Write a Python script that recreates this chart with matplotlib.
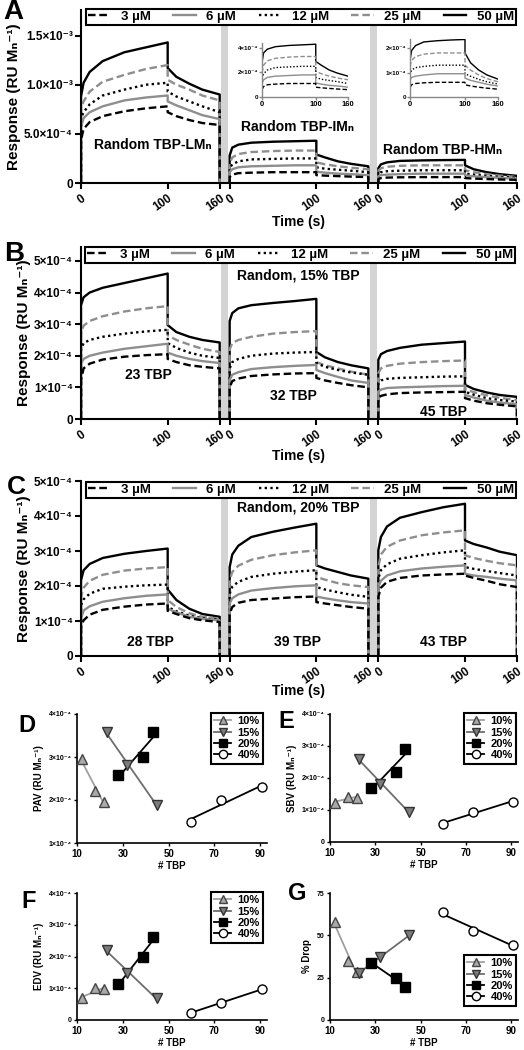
import numpy as np
import matplotlib
matplotlib.use('Agg')
import matplotlib.pyplot as plt
from matplotlib.lines import Line2D

plt.rcParams['font.family'] = ['Liberation Sans', 'DejaVu Sans']
plt.rcParams['font.weight'] = 'bold'
plt.rcParams['axes.labelweight'] = 'bold'

W, H = 524, 1050

# sensorgram sampling times (s)
T_ON = [0, 3, 10, 25, 50, 75, 100]
T_OFF = [100, 110, 125, 140, 160]
CONC = ['3 µM', '6 µM', '12 µM', '25 µM', '50 µM']

# responses in 1e-4 RU/Mn, rows: 3, 6, 12, 25, 50 uM
A_LM_ON = [[4.4, 5.5, 6.2, 6.8, 7.3, 7.6, 7.8],
           [5.7, 6.6, 7.2, 7.8, 8.4, 8.7, 8.9],
           [6.6, 7.2, 8.0, 8.9, 9.5, 10.0, 10.2],
           [7.6, 8.3, 9.3, 10.3, 11.0, 11.6, 12.0],
           [8.8, 10.2, 11.3, 12.4, 13.3, 13.8, 14.3]]
A_LM_OFF = [[7.2, 6.8, 6.4, 6.1, 5.9],
            [8.3, 7.9, 7.4, 6.9, 6.5],
            [9.3, 8.8, 8.3, 7.8, 7.2],
            [10.5, 10.0, 9.5, 8.9, 8.4],
            [11.7, 10.8, 10.1, 9.5, 9.0]]
A_IM_ON = [[0.6, 0.85, 1.0, 1.05, 1.1, 1.1, 1.1],
           [1.1, 1.4, 1.6, 1.7, 1.75, 1.8, 1.8],
           [1.5, 1.9, 2.2, 2.4, 2.45, 2.5, 2.5],
           [2.0, 2.6, 2.95, 3.15, 3.25, 3.3, 3.3],
           [2.8, 3.6, 3.9, 4.1, 4.2, 4.25, 4.3]]
A_IM_OFF = [[0.8, 0.75, 0.7, 0.65, 0.6],
            [1.15, 1.05, 0.95, 0.9, 0.8],
            [1.6, 1.45, 1.35, 1.25, 1.1],
            [2.1, 1.9, 1.7, 1.55, 1.4],
            [2.9, 2.6, 2.2, 1.95, 1.7]]
A_HM_ON = [[0.4, 0.5, 0.55, 0.58, 0.6, 0.6, 0.6],
           [0.7, 0.8, 0.85, 0.9, 0.95, 0.95, 0.95],
           [0.9, 1.1, 1.2, 1.25, 1.3, 1.3, 1.3],
           [1.25, 1.5, 1.65, 1.75, 1.8, 1.8, 1.8],
           [1.5, 1.9, 2.1, 2.25, 2.3, 2.33, 2.35]]
A_HM_OFF = [[0.5, 0.45, 0.4, 0.36, 0.32],
            [0.77, 0.68, 0.6, 0.52, 0.45],
            [0.95, 0.85, 0.72, 0.62, 0.53],
            [1.3, 1.1, 0.9, 0.75, 0.62],
            [1.8, 1.4, 1.1, 0.9, 0.73]]

B_23_ON = [[1.25, 1.6, 1.75, 1.88, 1.97, 2.02, 2.05],
           [1.75, 1.9, 2.0, 2.1, 2.22, 2.3, 2.38],
           [2.2, 2.4, 2.5, 2.6, 2.7, 2.77, 2.82],
           [2.7, 2.95, 3.1, 3.25, 3.4, 3.5, 3.57],
           [3.6, 3.85, 4.0, 4.15, 4.3, 4.45, 4.6]]
B_23_OFF = [[1.9, 1.8, 1.7, 1.65, 1.6],
            [2.1, 2.0, 1.9, 1.83, 1.77],
            [2.4, 2.25, 2.1, 2.0, 1.93],
            [2.65, 2.5, 2.35, 2.22, 2.12],
            [2.97, 2.75, 2.6, 2.5, 2.42]]
B_32_ON = [[1.0, 1.2, 1.28, 1.36, 1.41, 1.44, 1.45],
           [1.23, 1.4, 1.48, 1.58, 1.64, 1.68, 1.71],
           [1.6, 1.8, 1.9, 2.0, 2.07, 2.1, 2.12],
           [2.2, 2.4, 2.5, 2.6, 2.7, 2.75, 2.78],
           [3.1, 3.35, 3.5, 3.6, 3.67, 3.73, 3.8]]
B_32_OFF = [[1.3, 1.22, 1.14, 1.07, 1.0],
            [1.55, 1.45, 1.33, 1.22, 1.14],
            [1.77, 1.65, 1.55, 1.47, 1.4],
            [1.8, 1.7, 1.6, 1.5, 1.4],
            [2.12, 1.95, 1.8, 1.7, 1.6]]
B_45_ON = [[0.66, 0.73, 0.78, 0.82, 0.84, 0.85, 0.86],
           [0.86, 0.93, 0.98, 1.0, 1.02, 1.04, 1.05],
           [1.14, 1.22, 1.27, 1.3, 1.32, 1.34, 1.35],
           [1.45, 1.6, 1.68, 1.75, 1.8, 1.83, 1.85],
           [1.87, 2.05, 2.15, 2.25, 2.35, 2.4, 2.45]]
B_45_OFF = [[0.66, 0.58, 0.5, 0.45, 0.4],
            [0.76, 0.68, 0.58, 0.52, 0.47],
            [0.86, 0.77, 0.66, 0.6, 0.55],
            [0.94, 0.85, 0.75, 0.67, 0.6],
            [1.08, 0.95, 0.84, 0.76, 0.7]]

C_28_ON = [[0.83, 1.02, 1.18, 1.32, 1.41, 1.47, 1.5],
           [1.07, 1.3, 1.42, 1.55, 1.65, 1.72, 1.76],
           [1.45, 1.62, 1.78, 1.92, 1.98, 2.02, 2.04],
           [1.69, 1.95, 2.15, 2.32, 2.44, 2.5, 2.54],
           [2.16, 2.45, 2.63, 2.8, 2.92, 3.0, 3.07]]
C_28_OFF = [[1.29, 1.2, 1.08, 1.02, 0.97],
            [1.35, 1.25, 1.12, 1.06, 1.02],
            [1.4, 1.28, 1.15, 1.08, 1.04],
            [1.6, 1.4, 1.22, 1.12, 1.07],
            [1.9, 1.6, 1.35, 1.2, 1.12]]
C_39_ON = [[1.21, 1.4, 1.52, 1.6, 1.64, 1.68, 1.7],
           [1.5, 1.65, 1.76, 1.87, 1.94, 1.99, 2.02],
           [1.78, 1.98, 2.12, 2.26, 2.35, 2.41, 2.45],
           [2.16, 2.4, 2.58, 2.75, 2.88, 2.96, 3.02],
           [2.54, 2.9, 3.15, 3.4, 3.55, 3.67, 3.78]]
C_39_OFF = [[1.54, 1.5, 1.45, 1.4, 1.35],
            [1.7, 1.65, 1.59, 1.54, 1.5],
            [1.97, 1.9, 1.82, 1.75, 1.69],
            [2.26, 2.18, 2.08, 2.02, 1.97],
            [2.59, 2.5, 2.4, 2.3, 2.21]]
C_43_ON = [[1.69, 1.95, 2.12, 2.23, 2.3, 2.33, 2.35],
           [1.97, 2.15, 2.3, 2.42, 2.5, 2.55, 2.59],
           [2.21, 2.45, 2.62, 2.78, 2.88, 2.96, 3.02],
           [2.54, 2.9, 3.12, 3.3, 3.45, 3.53, 3.59],
           [3.02, 3.4, 3.7, 3.95, 4.11, 4.25, 4.35]]
C_43_OFF = [[2.3, 2.23, 2.15, 2.05, 1.97],
            [2.35, 2.3, 2.26, 2.21, 2.16],
            [2.54, 2.49, 2.43, 2.37, 2.3],
            [2.88, 2.8, 2.72, 2.65, 2.59],
            [3.3, 3.2, 3.1, 2.98, 2.88]]

# summary panels
GROUPS = ['10%', '15%', '20%', '40%']
TBP_10 = [12, 18, 22]
TBP_15 = [23, 32, 45]
TBP_20 = [28, 39, 43]
TBP_40 = [60, 73, 91]
PAV = [[2.95, 2.2, 1.95], [3.57, 2.81, 1.88], [2.58, 3.0, 3.59], [1.5, 2.0, 2.3]]
SBV = [[1.23, 1.42, 1.38], [2.6, 1.8, 0.95], [1.68, 2.2, 2.9], [0.56, 0.95, 1.26]]
EDV = [[0.68, 1.0, 0.97], [2.21, 1.47, 0.68], [1.14, 1.98, 2.6], [0.23, 0.55, 0.97]]
DROP = [[58, 35, 28.5], [28, 37, 50], [33.8, 25, 19.5], [63.5, 52.5, 44.5]]

GRAY = '#8e8e8e'
STY = [dict(color='black', ls=(0, (3.2, 1.6))),
       dict(color=GRAY, ls='-'),
       dict(color='black', ls=(0, (1, 1.4))),
       dict(color=GRAY, ls=(0, (3.2, 1.6))),
       dict(color='black', ls='-')]
MARK = [dict(marker='^', mfc='#a9a9a9', mec='#444444', color='#a0a0a0'),
        dict(marker='v', mfc='#7c7c7c', mec='#333333', color='#6e6e6e'),
        dict(marker='s', mfc='black', mec='black', color='black'),
        dict(marker='o', mfc='white', mec='black', color='black')]

SEG = 171.5  # offset between sub-panels (s)

fig = plt.figure(figsize=(W / 100, H / 100), dpi=100)


def rect(l, t, r, b):
    return [l / W, 1 - b / H, (r - l) / W, (b - t) / H]


def ftext(x, y, s, **kw):
    fig.text(x / W, 1 - y / H, s, ha='center', va='center', fontweight='bold', **kw)


def sensor_panel(r, segs, ytop, yt, ytl, leg_box):
    ax = fig.add_axes(r)
    for k, (on, off) in enumerate(segs):
        o = k * SEG
        for i in reversed(range(5)):
            x = np.r_[0, T_ON, T_OFF, 160] + o
            y = np.r_[0, on[i], off[i], 0] * 1e-4
            ax.plot(x, y, lw=1.7, **STY[i])
    for k in (0, 1):
        ax.axvspan(k * SEG + 161.5, k * SEG + 170, color='#d4d4d4', lw=0, zorder=0)
    ax.set_xlim(0, 2 * SEG + 160)
    ax.set_ylim(0, ytop)
    xt = [k * SEG + t for k in range(3) for t in (0, 100, 160)]
    ax.set_xticks(xt)
    ax.set_xticklabels(['0', '100', '160'] * 3, rotation=35, ha='right',
                       rotation_mode='anchor', fontsize=8.5)
    ax.set_yticks(yt)
    ax.set_yticklabels(ytl, fontsize=8.5)
    for s in ('top', 'right'):
        ax.spines[s].set_visible(False)
    for s in ('left', 'bottom'):
        ax.spines[s].set_linewidth(1.5)
    ax.tick_params(width=1.5, length=4, pad=2)
    ax.tick_params(axis='x', pad=3)
    ax.set_ylabel('Response (RU Mₙ⁻¹)', fontsize=11, labelpad=2)
    handles = [Line2D([], [], lw=1.7, **STY[i]) for i in range(5)]
    l, t, rr, b = leg_box
    leg = ax.legend(handles, CONC, loc='lower left', ncol=5, mode='expand',
                    bbox_to_anchor=(l / W, 1 - b / H, (rr - l) / W, (b - t) / H),
                    bbox_transform=fig.transFigure, fancybox=False, edgecolor='black',
                    framealpha=1, borderpad=0.15, handlelength=1.7, handletextpad=0.8,
                    columnspacing=1.0, borderaxespad=0,
                    prop=dict(weight='bold', size=9.5))
    leg.get_frame().set_linewidth(1.5)
    return ax


def inset(r, on, off, ytop, yt, ytl):
    ax = fig.add_axes(r)
    for i in reversed(range(5)):
        x = np.r_[T_ON, T_OFF]
        y = np.r_[on[i], off[i]] * 1e-4
        ax.plot(x, y, lw=1.0, **STY[i])
    ax.set_xlim(0, 160)
    ax.set_ylim(0, ytop)
    ax.set_xticks([0, 100, 160])
    ax.set_xticklabels(['0', '100', '160'], fontsize=5.5)
    ax.set_yticks(yt)
    ax.set_yticklabels(ytl, fontsize=4.5)
    for s in ('top', 'right'):
        ax.spines[s].set_visible(False)
    for s in ('left', 'bottom'):
        ax.spines[s].set_linewidth(1.0)
        ax.spines[s].set_color('#888888')
    ax.tick_params(width=1.0, length=2, pad=1, color='#888888')
    ax.patch.set_alpha(0)


def tbp_panel(r, vals, scale, ylim, yt, ytl, ylabel, leg_box):
    ax = fig.add_axes(r)
    xs = [TBP_10, TBP_15, TBP_20, TBP_40]
    for g in range(4):
        x = np.array(xs[g], float)
        y = np.array(vals[g], float) * scale
        p = np.polyfit(x, y, 1)
        ax.plot([x.min(), x.max()], np.polyval(p, [x.min(), x.max()]),
                color=MARK[g]['color'], lw=1.3, zorder=2)
        ax.plot(x, y, ls='none', marker=MARK[g]['marker'], mfc=MARK[g]['mfc'],
                mec=MARK[g]['mec'], ms=6.5, mew=1.0, zorder=3)
    ax.set_xlim(10, 93)
    ax.set_ylim(*ylim)
    ax.set_xticks([10, 30, 50, 70, 90])
    ax.tick_params(axis='x', labelsize=7)
    ax.set_yticks(yt)
    ax.set_yticklabels(ytl, fontsize=5)
    for s in ('top', 'right'):
        ax.spines[s].set_visible(False)
    for s in ('left', 'bottom'):
        ax.spines[s].set_linewidth(1.2)
    ax.tick_params(width=1.0, length=2.5, pad=1.5)
    ax.set_xlabel('# TBP', fontsize=7, labelpad=2)
    ax.set_ylabel(ylabel, fontsize=7, labelpad=3)
    handles = [Line2D([], [], color=MARK[g]['color'], lw=1.3, marker=MARK[g]['marker'],
                      mfc=MARK[g]['mfc'], mec=MARK[g]['mec'], ms=6, mew=1.0)
               for g in range(4)]
    l, t, rr, b = leg_box
    leg = ax.legend(handles, GROUPS, loc='upper left',
                    bbox_to_anchor=(l / W, 1 - t / H), bbox_transform=fig.transFigure,
                    fancybox=False, edgecolor='black', framealpha=1, borderpad=0.3,
                    handlelength=1.5, handletextpad=0.6, labelspacing=0.12,
                    borderaxespad=0, numpoints=1, prop=dict(weight='bold', size=8))
    leg.get_frame().set_linewidth(1.5)
    return ax


# ---- panel A
sensor_panel(rect(81, 10, 517, 183),
             [(A_LM_ON, A_LM_OFF), (A_IM_ON, A_IM_OFF), (A_HM_ON, A_HM_OFF)],
             17.6e-4, [0, 5e-4, 1e-3, 1.5e-3], ['0', '5.0×10⁻⁴', '1.0×10⁻³', '1.5×10⁻³'],
             (86, 4, 516, 25))
inset(rect(262, 43, 348, 97), A_IM_ON, A_IM_OFF, 4.4e-4, [0, 2e-4, 4e-4],
      ['0', '2×10⁻⁴', '4×10⁻⁴'])
inset(rect(410, 39, 498, 97), A_HM_ON, A_HM_OFF, 2.37e-4, [0, 1e-4, 2e-4],
      ['0', '1×10⁻⁴', '2×10⁻⁴'])
ftext(153, 145, 'Random TBP-LMₙ', fontsize=10)
ftext(298, 127, 'Random TBP-IMₙ', fontsize=10)
ftext(443, 150, 'Random TBP-HMₙ', fontsize=10)
ftext(299, 222, 'Time (s)', fontsize=10)

# ---- panel B
ytB = [0, 1e-4, 2e-4, 3e-4, 4e-4, 5e-4]
ytlB = ['0', '1×10⁻⁴', '2×10⁻⁴', '3×10⁻⁴', '4×10⁻⁴', '5×10⁻⁴']
sensor_panel(rect(81, 247, 517, 419),
             [(B_23_ON, B_23_OFF), (B_32_ON, B_32_OFF), (B_45_ON, B_45_OFF)],
             5.44e-4, ytB, ytlB, (85, 240, 515, 263))
ftext(298, 275, 'Random, 15% TBP', fontsize=10)
ftext(148, 375, '23 TBP', fontsize=10)
ftext(293, 396, '32 TBP', fontsize=10)
ftext(443, 412, '45 TBP', fontsize=10)
ftext(299, 456, 'Time (s)', fontsize=10)

# ---- panel C
sensor_panel(rect(81, 481, 517, 656),
             [(C_28_ON, C_28_OFF), (C_39_ON, C_39_OFF), (C_43_ON, C_43_OFF)],
             5.0e-4, ytB, ytlB, (86, 478, 516, 498))
ftext(298, 508, 'Random, 20% TBP', fontsize=10)
ftext(150, 642, '28 TBP', fontsize=10)
ftext(297, 642, '39 TBP', fontsize=10)
ftext(443, 642, '43 TBP', fontsize=10)
ftext(299, 691, 'Time (s)', fontsize=10)

# ---- panels D-G
yt4 = [1e-4, 2e-4, 3e-4, 4e-4]
ytl4 = ['1×10⁻⁴', '2×10⁻⁴', '3×10⁻⁴', '4×10⁻⁴']
tbp_panel(rect(77, 714, 267, 843), PAV, 1e-4, (1e-4, 4e-4), yt4, ytl4,
          'PAV (RU Mₙ⁻¹)', (211, 713, 260, 773))
tbp_panel(rect(330, 714, 518, 842), SBV, 1e-4, (0, 4e-4), [0] + yt4, ['0'] + ytl4,
          'SBV (RU Mₙ⁻¹)', (464, 713, 515, 773))
tbp_panel(rect(77, 893, 267, 1020), EDV, 1e-4, (0, 4e-4), [0] + yt4, ['0'] + ytl4,
          'EDV (RU Mₙ⁻¹)', (211, 892, 260, 952))
tbp_panel(rect(330, 893, 518, 1020), DROP, 1, (0, 75), [0, 25, 50, 75],
          ['0', '25', '50', '75'], '% Drop', (464, 955, 515, 1015))

# panel letters
for s, x, y, fs in [('A', 13, 12, 20), ('B', 14, 254, 20), ('C', 16, 487, 19),
                    ('D', 27, 725, 17), ('E', 286, 722, 17), ('F', 29, 902, 17),
                    ('G', 297, 893, 17)]:
    ftext(x, y, s, fontsize=fs)

fig.savefig('out.png', dpi=100)
